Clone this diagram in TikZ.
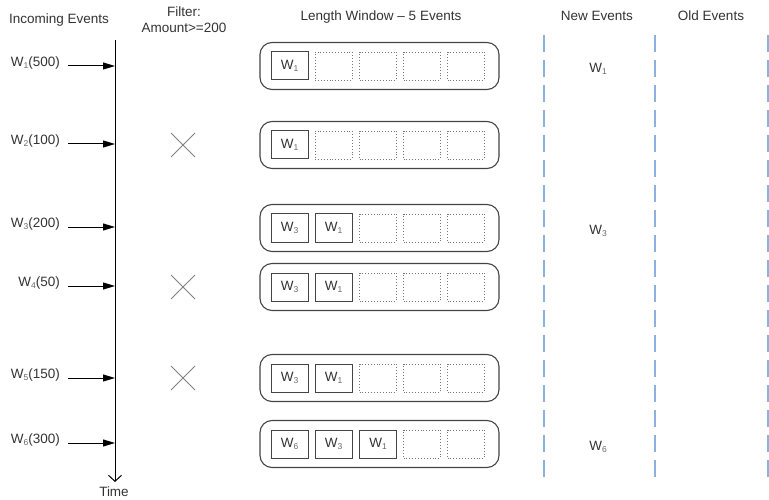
\documentclass[tikz,border=0pt]{standalone}
\usepackage{fontspec}
\setmainfont{Liberation Sans}
\usetikzlibrary{arrows.meta}
\definecolor{txt}{HTML}{333333}
\definecolor{subc}{HTML}{666666}
\definecolor{boxc}{HTML}{444444}
\definecolor{dotc}{HTML}{777777}
\definecolor{sepc}{HTML}{8CB0E0}
\newcommand{\wsb}[1]{W\raisebox{-0.3ex}{\fontsize{8.5}{8.5}\selectfont\color{subc}#1}}
\tikzset{
  lbl/.style={font=\fontsize{13.5}{16}\selectfont, text=txt, inner sep=0pt},
  winbox/.style={draw=boxc, line width=1.1pt, rounded corners=12pt, minimum width=239pt, minimum height=47pt},
  fullbox/.style={draw=boxc, line width=1pt, minimum width=37pt, minimum height=28pt, font=\fontsize{13.5}{16}\selectfont, text=txt, inner sep=0pt},
  emptybox/.style={draw=dotc, dotted, line width=0.9pt, minimum width=37pt, minimum height=28pt, inner sep=0pt},
  evarrow/.style={draw=black, line width=1pt, -{Triangle[length=12pt,width=7pt]}},
  sep/.style={draw=sepc, line width=1.4pt, dash pattern=on 17pt off 8pt},
  cross/.style={draw=gray, line width=0.9pt}
}
\begin{document}
\begin{tikzpicture}[x=1pt,y=-1pt]
\useasboundingbox (0,0) rectangle (769,500);
% headers
\node[lbl] (hin) at (59,20) {Incoming Events};
\node[lbl, align=center] (hfil) at (184,20) {Filter:\\Amount>=200};
\node[lbl] (hwin) at (381,17) {Length Window -- 5 Events};
\node[lbl] (hnew) at (597,16) {New Events};
\node[lbl] (hold) at (711,16) {Old Events};
% time axis
\coordinate (ttop) at (115,40);
\coordinate (tbot) at (115,482);
\draw[line width=1pt, -{Straight Barb[length=6pt,width=13pt]}] (ttop) -- (tbot);
\node[lbl] (time) at (114,492) {Time};
% separators
\foreach \x/\n in {544/s1,655/s2,768/s3}{
  \coordinate (\n a) at (\x,35);
  \coordinate (\n b) at (\x,482);
  \draw[sep] (\n a) -- (\n b);
}
% events
\foreach \i/\y/\v in {1/66/500,2/144/100,3/227/200,4/286/50,5/378/150,6/443/300}{
  \node[lbl, anchor=east] (ev\i) at (60,\y-3) {\wsb{\i}(\v)};
  \coordinate (as\i) at (68,\y);
  \coordinate (ae\i) at (115,\y);
  \draw[evarrow] (as\i) -- (ae\i);
}
% crosses
\foreach \i/\y in {2/145,4/287,5/378}{
  \coordinate (xa\i) at (171,\y-12);
  \coordinate (xb\i) at (195,\y+12);
  \coordinate (xc\i) at (171,\y+12);
  \coordinate (xd\i) at (195,\y-12);
  \draw[cross] (xa\i) -- (xb\i);
  \draw[cross] (xc\i) -- (xd\i);
}
% windows
\foreach \i/\y in {1/66,2/145,3/228,4/287,5/378,6/444}{
  \node[winbox] (win\i) at (379.5,\y) {};
}
% window contents
\node[fullbox] (b11) at (289.5,66) {\wsb{1}};
\foreach \k/\x in {2/333.5,3/378,4/422,5/466} \node[emptybox] (b1\k) at (\x,66) {};
\node[fullbox] (b21) at (289.5,145) {\wsb{1}};
\foreach \k/\x in {2/333.5,3/378,4/422,5/466} \node[emptybox] (b2\k) at (\x,145) {};
\node[fullbox] (b31) at (289.5,228) {\wsb{3}};
\node[fullbox] (b32) at (333.5,228) {\wsb{1}};
\foreach \k/\x in {3/378,4/422,5/466} \node[emptybox] (b3\k) at (\x,228) {};
\node[fullbox] (b41) at (289.5,287) {\wsb{3}};
\node[fullbox] (b42) at (333.5,287) {\wsb{1}};
\foreach \k/\x in {3/378,4/422,5/466} \node[emptybox] (b4\k) at (\x,287) {};
\node[fullbox] (b51) at (289.5,378) {\wsb{3}};
\node[fullbox] (b52) at (333.5,378) {\wsb{1}};
\foreach \k/\x in {3/378,4/422,5/466} \node[emptybox] (b5\k) at (\x,378) {};
\node[fullbox] (b61) at (289.5,444) {\wsb{6}};
\node[fullbox] (b62) at (333.5,444) {\wsb{3}};
\node[fullbox] (b63) at (378,444) {\wsb{1}};
\foreach \k/\x in {4/422,5/466} \node[emptybox] (b6\k) at (\x,444) {};
% new events
\node[lbl] (n1) at (598,69) {\wsb{1}};
\node[lbl] (n3) at (598,231) {\wsb{3}};
\node[lbl] (n6) at (598,447) {\wsb{6}};
\end{tikzpicture}
\end{document}
